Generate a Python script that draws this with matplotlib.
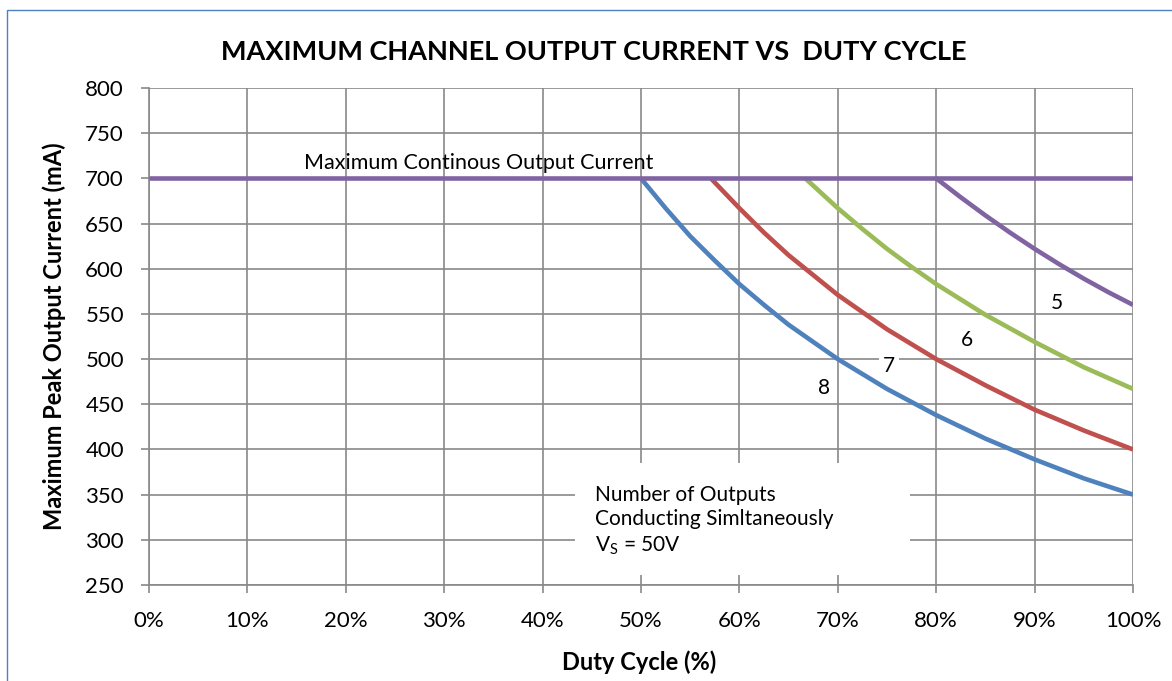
import matplotlib.pyplot as plt
from matplotlib.patches import Rectangle

plt.rcParams['font.family'] = ['Lato', 'DejaVu Sans']

# duty cycle (%) and max peak output current (mA)
duty_8 = [50, 52.5, 55, 57.5, 60, 62.5, 65, 70, 75, 80, 85, 90, 95, 100]
curr_8 = [700, 667, 636, 609, 583, 560, 538, 500, 467, 438, 412, 389, 368, 350]

duty_7 = [57.1, 60, 62.5, 65, 67.5, 70, 75, 80, 85, 90, 95, 100]
curr_7 = [700, 667, 640, 615, 593, 571, 533, 500, 471, 444, 421, 400]

duty_6 = [66.7, 70, 72.5, 75, 77.5, 80, 85, 90, 95, 100]
curr_6 = [700, 667, 644, 622, 602, 583, 549, 519, 491, 467]

duty_5 = [80, 82.5, 85, 87.5, 90, 92.5, 95, 97.5, 100]
curr_5 = [700, 679, 659, 640, 622, 605, 589, 574, 560]

duty_max = [0, 100]
curr_max = [700, 700]

x_ticks = list(range(0, 101, 10))
y_ticks = list(range(250, 801, 50))

blue = '#4F81BD'
red = '#C0504D'
green = '#9BBB59'
purple = '#8064A2'
grid_col = '#898989'

fig = plt.figure(figsize=(11.72, 6.81), dpi=100)
ax = fig.add_axes([0.1271, 0.1410, 0.8396, 0.7298])

# outer chart border (left and top edges visible)
fig.patches.append(Rectangle((0.006, -0.05), 1.1, 1.035, transform=fig.transFigure,
                             fill=False, edgecolor='#4F81BD', linewidth=1.0))

lw = 3.3
ax.plot(duty_8, curr_8, color=blue, lw=lw, solid_capstyle='butt', zorder=3)
ax.plot(duty_7, curr_7, color=red, lw=lw, solid_capstyle='butt', zorder=3)
ax.plot(duty_6, curr_6, color=green, lw=lw, solid_capstyle='butt', zorder=3)
ax.plot(duty_5, curr_5, color=purple, lw=lw, solid_capstyle='butt', zorder=3)
ax.plot(duty_max, curr_max, color=purple, lw=lw, solid_capstyle='butt', zorder=4)

ax.set_xlim(0, 100)
ax.set_ylim(250, 800)
ax.set_xticks(x_ticks)
ax.set_xticklabels([f'{t}%' for t in x_ticks])
ax.set_yticks(y_ticks)
ax.grid(True, color=grid_col, lw=1.2, zorder=0)
ax.set_axisbelow(True)
for s in ['top', 'right']:
    ax.spines[s].set_visible(False)
for s in ['left', 'bottom']:
    ax.spines[s].set_color(grid_col)
    ax.spines[s].set_linewidth(1.2)
ax.tick_params(axis='both', color=grid_col, length=6, width=1.2, labelsize=16)
ax.tick_params(axis='y', pad=12)
ax.tick_params(axis='x', pad=13)

fig.text(594 / 1172, 1 - 52 / 681, 'MAXIMUM CHANNEL OUTPUT CURRENT VS  DUTY CYCLE',
         fontsize=19.5, fontweight='bold', ha='center', va='center')
fig.text(639 / 1172, 1 - 662 / 681, 'Duty Cycle (%)', fontsize=17, fontweight='bold',
         ha='center', va='center')
fig.text(54 / 1172, 1 - 336 / 681, 'Maximum Peak Output Current (mA)', fontsize=17,
         fontweight='bold', ha='center', va='center', rotation=90)

ax.text(33.5, 717, 'Maximum Continous Output Current', fontsize=15.5, ha='center', va='center')
ax.text(92.3, 562, '5', fontsize=15, ha='center', va='center')
ax.text(83.1, 521, '6', fontsize=15, ha='center', va='center')
ax.text(75.2, 492, '7', fontsize=15, ha='center', va='center',
        bbox=dict(facecolor='white', edgecolor='none', pad=3))
ax.text(68.6, 468, '8', fontsize=15, ha='center', va='center')

# white annotation box
ax.add_patch(Rectangle((43.3, 261), 34.0, 124, facecolor='white', edgecolor='none', zorder=2))
ax.text(45.3, 321, 'Number of Outputs\nConducting Simltaneously\nV$_\\mathregular{S}$ = 50V',
        fontsize=15, ha='left', va='center', linespacing=1.3, zorder=3)

fig.savefig('out.png', dpi=100)
